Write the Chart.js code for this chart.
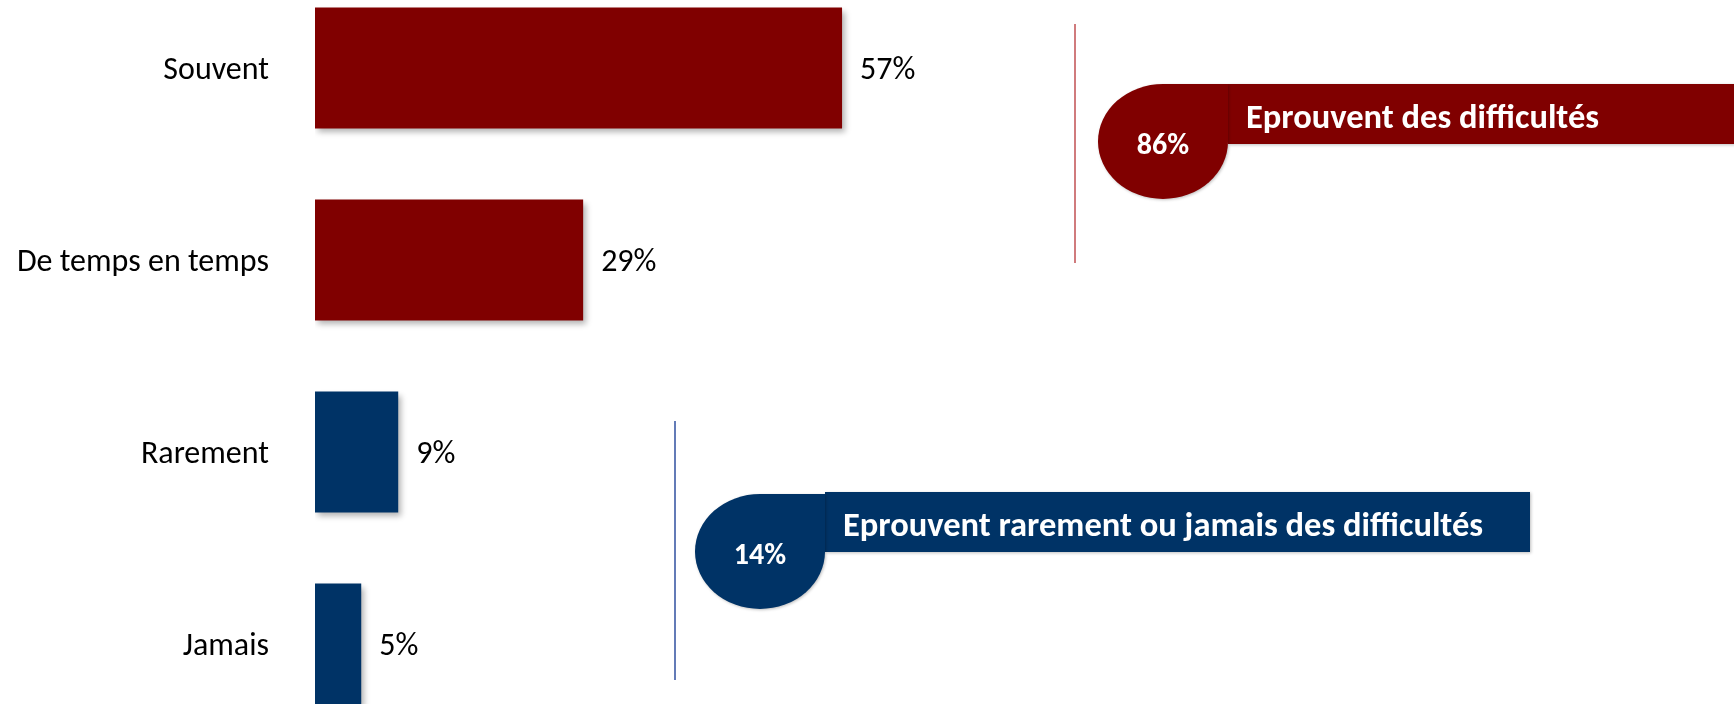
<!DOCTYPE html>
<html lang="fr">
<head>
<meta charset="utf-8">
<script src="https://cdn.jsdelivr.net/npm/chart.js@4.4.0/dist/chart.umd.min.js"></script>
<style>
  html, body { margin: 0; padding: 0; background: #fff; overflow: hidden; }
  #wrap { position: absolute; left: 0; top: -28px; width: 1734px; height: 768px; }
</style>
</head>
<body>
<div id="wrap"><canvas id="chart"></canvas></div>
<script>
// Données du graphique
const categories = ['Souvent', 'De temps en temps', 'Rarement', 'Jamais'];
const values = [57, 29, 9, 5];
const barColors = ['#800000', '#800000', '#003366', '#003366'];

// Regroupements affichés à droite
const groupLabels = ['Eprouvent des difficultés', 'Eprouvent rarement ou jamais des difficultés'];
const groupRows = [[0, 1], [2, 3]];
const groupColors = ['#800000', '#003366'];
const groupLineColors = ['#c04f52', '#2f4f9f'];

// Placement des bulles (pixels du canvas)
const groupLayout = [
  { lineX: 1075, lineTop: 52, lineBottom: 291, pillX: 1098, pillY: 112, bannerY: 112, bannerRight: 1740 },
  { lineX: 675, lineTop: 449, lineBottom: 708, pillX: 695, pillY: 522, bannerY: 520, bannerRight: 1530 }
];
const FONT = 'Carlito, Lato, sans-serif';

// Ombre portée sous les barres
const ombre = {
  id: 'ombre',
  beforeDatasetsDraw(chart) {
    const c = chart.ctx;
    c.save();
    c.shadowColor = 'rgba(0,0,0,0.3)';
    c.shadowBlur = 6;
    c.shadowOffsetX = 3;
    c.shadowOffsetY = 4;
  },
  afterDatasetsDraw(chart) {
    const c = chart.ctx;
    c.restore();
    // étiquettes de valeur
    c.save();
    c.font = '32px ' + FONT;
    c.fillStyle = '#000';
    c.textBaseline = 'middle';
    chart.getDatasetMeta(0).data.forEach((bar, i) => {
      c.fillText(values[i] + '%', bar.x + 18, bar.y + 3);
    });
    c.restore();
  }
};

// Lignes, bulles et bandeaux des regroupements
const bulles = {
  id: 'bulles',
  afterDraw(chart) {
    const c = chart.ctx;
    groupRows.forEach((rows, g) => {
      const L = groupLayout[g];
      const rx = 65, ry = 57.5;
      const cx = L.pillX + rx, cy = L.pillY + ry;
      const total = rows.reduce((s, r) => s + values[r], 0);

      c.save();
      c.strokeStyle = groupLineColors[g];
      c.lineWidth = 1.5;
      c.beginPath();
      c.moveTo(L.lineX, L.lineTop);
      c.lineTo(L.lineX, L.lineBottom);
      c.stroke();

      c.shadowColor = 'rgba(0,0,0,0.25)';
      c.shadowBlur = 3;
      c.shadowOffsetX = 1;
      c.shadowOffsetY = 1;
      c.fillStyle = groupColors[g];
      c.fillRect(cx + rx, L.bannerY, L.bannerRight - (cx + rx), 60);

      c.beginPath();
      c.moveTo(cx + rx, L.pillY);
      c.lineTo(cx + rx, cy);
      c.ellipse(cx, cy, rx, ry, 0, 0, 1.5 * Math.PI);
      c.closePath();
      c.fill();
      c.restore();

      c.save();
      c.fillStyle = '#fff';
      c.textBaseline = 'middle';
      c.textAlign = 'center';
      c.font = 'bold 30px ' + FONT;
      c.fillText(total + '%', cx, cy + 5);
      c.textAlign = 'left';
      c.font = 'bold 34.5px ' + FONT;
      c.fillText(groupLabels[g], cx + rx + 18, L.bannerY + 35);
      c.restore();
    });
  }
};

new Chart(document.getElementById('chart'), {
  type: 'bar',
  data: {
    labels: categories,
    datasets: [{
      data: values,
      backgroundColor: barColors,
      borderWidth: 0,
      categoryPercentage: 1,
      barPercentage: 0.63
    }]
  },
  options: {
    indexAxis: 'y',
    responsive: true,
    maintainAspectRatio: false,
    animation: false,
    layout: { padding: { left: 0, right: 32, top: 0, bottom: 0 } },
    plugins: {
      legend: { display: false },
      tooltip: { enabled: false }
    },
    scales: {
      x: { display: false, min: 0, max: 150 },
      y: {
        grid: { display: false, drawTicks: false },
        border: { display: false },
        ticks: { color: '#000', padding: 46, labelOffset: 3, font: { family: FONT, size: 32 } },
        afterFit: s => { s.width = 315; s.paddingTop = 0; s.paddingBottom = 0; }
      }
    }
  },
  plugins: [ombre, bulles]
});
</script>
</body>
</html>
